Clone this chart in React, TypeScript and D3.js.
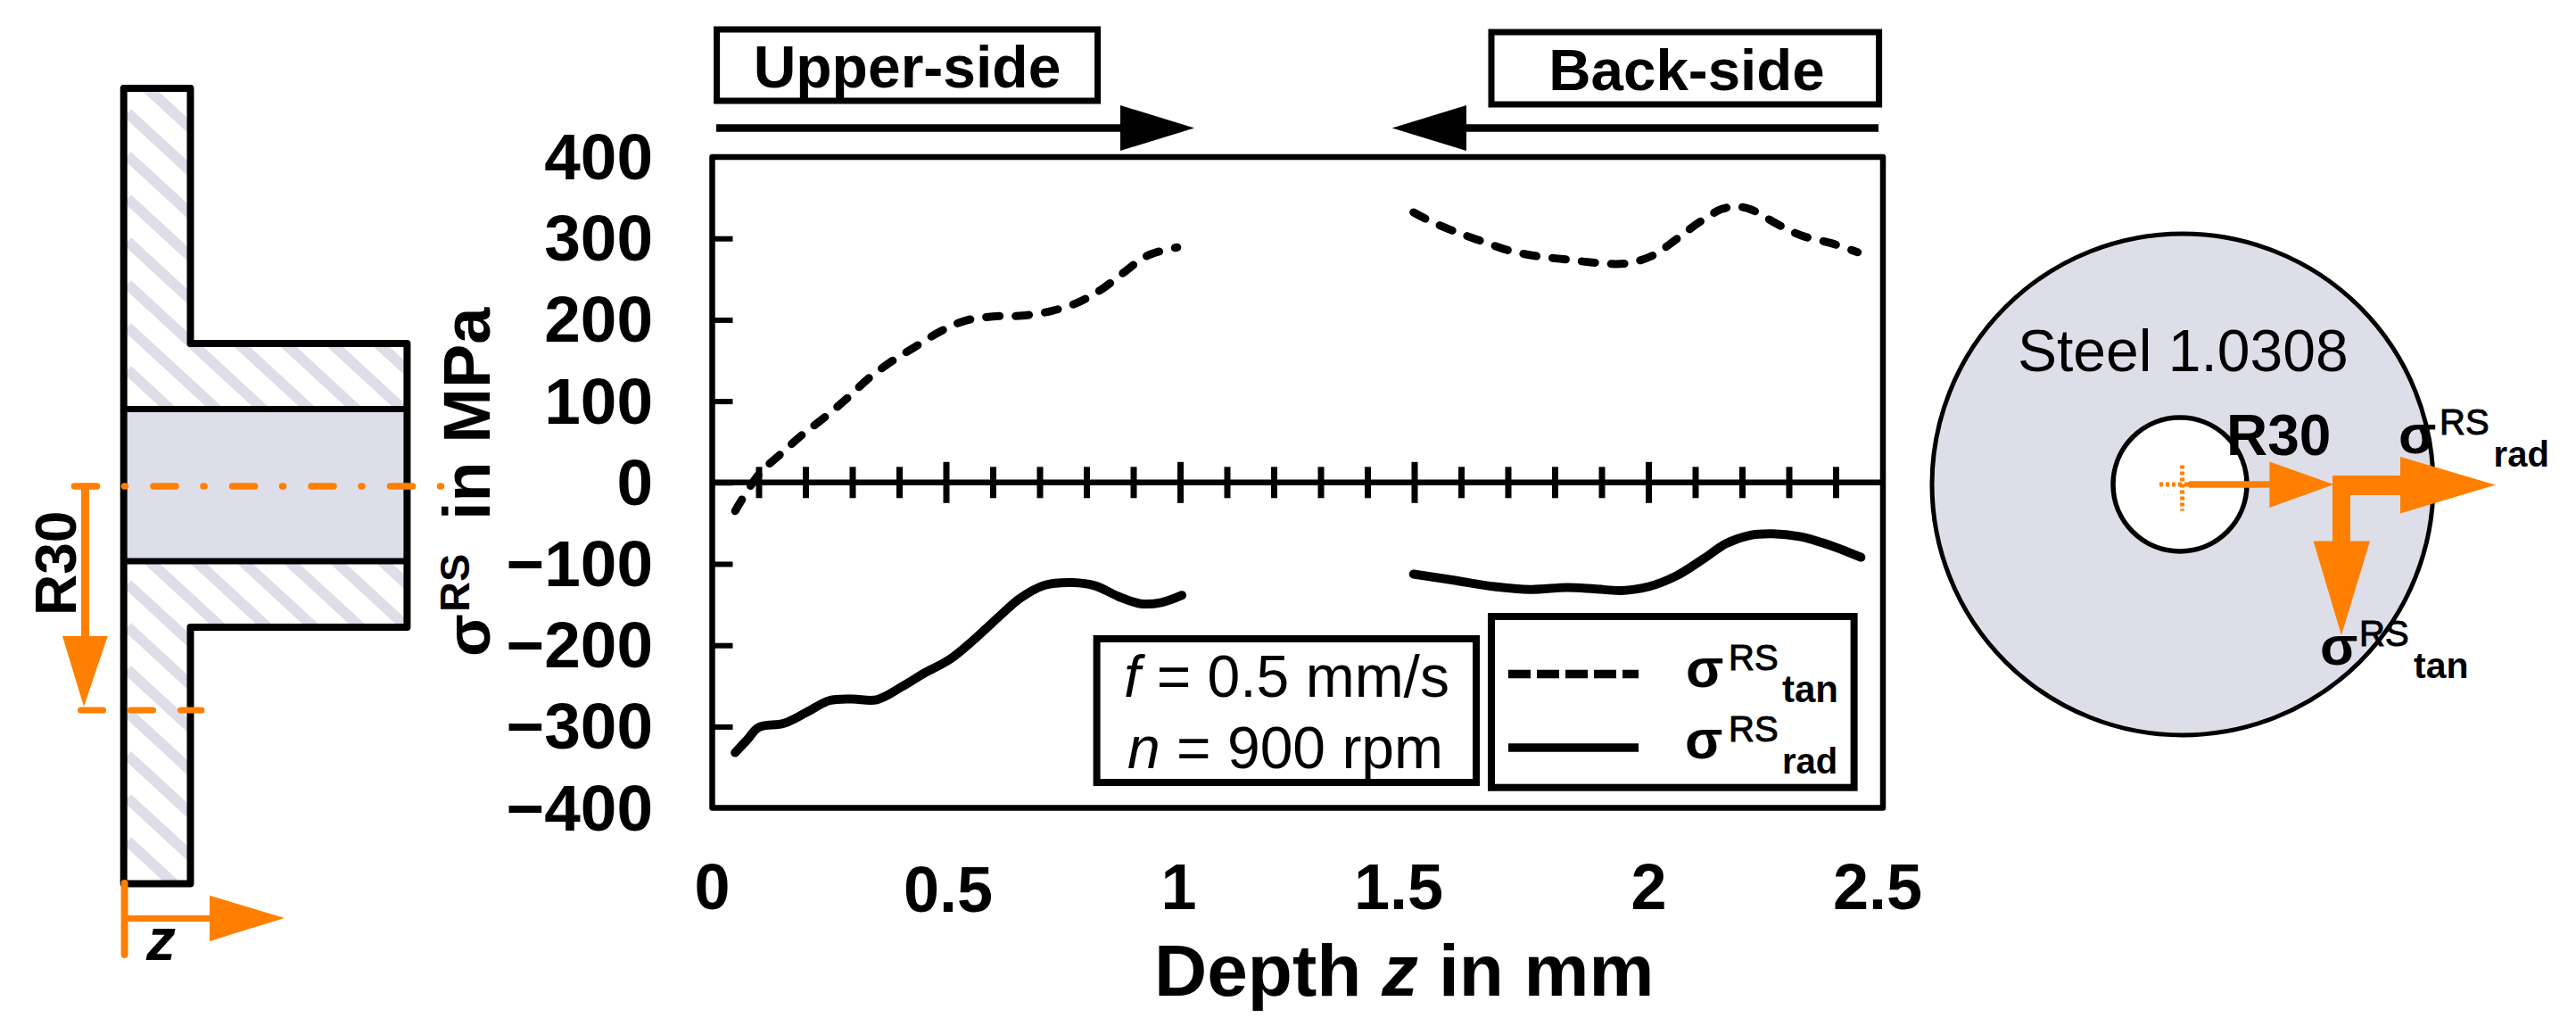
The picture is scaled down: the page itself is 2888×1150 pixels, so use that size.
import React, { useRef, useEffect } from 'react';
import * as d3 from 'd3';

const WIDTH = 2888;
const HEIGHT = 1150;
const ORANGE = '#ff7f00';
const STEEL = '#dedee9';
const FONT = '"Liberation Sans", Arial, sans-serif';

// Depth z in mm and residual stress in MPa
const tanUpperZ = [0.049, 0.099, 0.148, 0.191, 0.24, 0.289, 0.332, 0.381, 0.434, 0.488, 0.541, 0.599, 0.662, 0.726, 0.784, 0.833, 0.881, 0.93, 0.993];
const tanUpperS = [-35, 9.6, 36, 58, 80, 104, 127, 148, 167, 186, 199, 204, 205, 211, 222, 238, 259, 279, 289];
const tanBackZ = [1.4975, 1.534, 1.588, 1.646, 1.705, 1.763, 1.826, 1.888, 1.947, 2.005, 2.059, 2.108, 2.156, 2.19, 2.22, 2.273, 2.326, 2.39, 2.446];
const tanBackS = [332, 321, 308, 296, 284.5, 278, 274, 270, 269, 278, 299, 320, 336, 339, 335, 318, 303.5, 294, 283];
const radUpperZ = [0.049, 0.075, 0.099, 0.153, 0.201, 0.25, 0.298, 0.351, 0.405, 0.454, 0.507, 0.561, 0.614, 0.658, 0.711, 0.77, 0.818, 0.867, 0.915, 0.959, 1.003];
const radUpperS = [-332, -316, -301, -296, -282.6, -268, -266, -267, -251, -234, -217.5, -192, -164, -142, -126, -123, -127, -140, -149, -147.5, -138.6];
const radBackZ = [1.4975, 1.583, 1.67, 1.748, 1.826, 1.884, 1.942, 2.0, 2.059, 2.117, 2.166, 2.215, 2.264, 2.322, 2.39, 2.453];
const radBackS = [-112.6, -120, -128, -131.5, -129, -130.7, -132.8, -128, -114.7, -93.7, -74.8, -65, -63, -66.5, -77.7, -92];

const yTicks = [400, 300, 200, 100, 0, -100, -200, -300, -400];
const xLabels = [0, 0.5, 1, 1.5, 2, 2.5];
const xMinor = d3.range(1, 25).map((d) => d / 10).filter((d) => Math.round(d * 10) % 5 !== 0);
const xMajor = [0.5, 1, 1.5, 2];

const App: React.FC = () => {
  const svgRef = useRef<SVGSVGElement>(null);

  useEffect(() => {
    if (!svgRef.current) return;
    const svg = d3.select(svgRef.current);
    svg.selectAll('*').remove();

    const x = d3.scaleLinear().domain([0, 2.5]).range([798.5, 2111]);
    const y = d3.scaleLinear().domain([-400, 400]).range([905.6, 176]);

    const addText = (
      str: string,
      px: number,
      py: number,
      size: number,
      opts: { bold?: boolean; italic?: boolean; anchor?: string; rotate?: boolean; heavy?: boolean } = {}
    ) => {
      const t = svg
        .append('text')
        .attr('x', px)
        .attr('y', py)
        .attr('font-family', FONT)
        .attr('font-size', size)
        .attr('font-weight', opts.bold ? 'bold' : 'normal')
        .attr('font-style', opts.italic ? 'italic' : 'normal')
        .attr('text-anchor', opts.anchor || 'start')
        .attr('fill', '#000')
        .text(str);
      if (opts.heavy) t.attr('stroke', '#000').attr('stroke-width', 1);
      if (opts.rotate) t.attr('transform', `rotate(-90 ${px} ${py})`);
      return t;
    };

    const addLine = (x1: number, y1: number, x2: number, y2: number, color: string, w: number) =>
      svg
        .append('line')
        .attr('x1', x1)
        .attr('y1', y1)
        .attr('x2', x2)
        .attr('y2', y2)
        .attr('stroke', color)
        .attr('stroke-width', w);

    const addTriangle = (pts: [number, number][], color: string) =>
      svg.append('polygon').attr('points', pts.join(' ')).attr('fill', color);

    const addBox = (x1: number, y1: number, x2: number, y2: number, w: number) =>
      svg
        .append('rect')
        .attr('x', x1)
        .attr('y', y1)
        .attr('width', x2 - x1)
        .attr('height', y2 - y1)
        .attr('fill', 'none')
        .attr('stroke', '#000')
        .attr('stroke-width', w);

    // Flange section on the left
    const flange: [number, number][] = [
      [138.7, 99], [213.5, 99], [213.5, 385], [456.4, 385], [456.4, 703],
      [213.5, 703], [213.5, 990.5], [138.7, 990.5],
    ];
    const outline = d3.line()(flange) + 'Z';
    svg
      .append('defs')
      .append('clipPath')
      .attr('id', 'flange-clip')
      .append('path')
      .attr('d', outline);
    const hatch = svg.append('g').attr('clip-path', 'url(#flange-clip)');
    hatch
      .selectAll('line')
      .data(d3.range(-8, 20))
      .enter()
      .append('line')
      .attr('x1', 143)
      .attr('x2', 500)
      .attr('y1', (k) => 126.7 + 48 * k)
      .attr('y2', (k) => 126.7 + 48 * k + 0.92 * 357)
      .attr('stroke', STEEL)
      .attr('stroke-width', 12);
    svg.append('rect').attr('x', 138.7).attr('y', 458.5).attr('width', 317.7).attr('height', 170.5).attr('fill', STEEL);
    addLine(138.7, 458.5, 456.4, 458.5, '#000', 7);
    addLine(138.7, 629, 456.4, 629, '#000', 7);
    svg
      .append('path')
      .attr('d', outline)
      .attr('fill', 'none')
      .attr('stroke', '#000')
      .attr('stroke-width', 8)
      .attr('stroke-linejoin', 'round');

    // Orange marks on the section
    addLine(83.5, 545, 495, 545, ORANGE, 7.5)
      .attr('stroke-dasharray', '25 31 1 31.5')
      .attr('stroke-linecap', 'round');
    addLine(90.5, 796, 226, 796, ORANGE, 7)
      .attr('stroke-dasharray', '25 31')
      .attr('stroke-linecap', 'round');
    addLine(95.5, 546, 95.5, 716, ORANGE, 9);
    addTriangle([[70, 713], [120.8, 713], [94, 792]], ORANGE);
    addText('R30', 85, 690, 64, { rotate: true, bold: true });
    addLine(139.6, 990, 139.6, 1070, ORANGE, 8).attr('stroke-linecap', 'round');
    addLine(140, 1029.4, 238, 1029.4, ORANGE, 7);
    addTriangle([[235, 1003.7], [235, 1055], [319, 1029]], ORANGE);
    addText('z', 164, 1076, 66, { bold: true, italic: true });

    // Side labels above the plot
    addBox(803.6, 33, 1230.6, 113, 7);
    addText('Upper-side', 1017, 97.6, 66, { bold: true, anchor: 'middle' });
    addLine(803, 143.5, 1258, 143.5, '#000', 8.5);
    addTriangle([[1256, 118], [1256, 169], [1339, 143.5]], '#000');
    addBox(1672, 36, 2106.6, 117, 7);
    addText('Back-side', 1891, 101.4, 65.5, { bold: true, anchor: 'middle' });
    addLine(1642, 143.5, 2106, 143.5, '#000', 8.5);
    addTriangle([[1644, 118], [1644, 169], [1560.7, 143.5]], '#000');

    // Plot frame
    addBox(x(0), y(400), x(2.5), y(-400), 6.5).attr('stroke-linejoin', 'round');

    // Y axis, ticks point inwards
    const yAxis = d3
      .axisLeft(y)
      .tickValues(yTicks.filter((d) => Math.abs(d) !== 400))
      .tickSizeInner(-23)
      .tickSizeOuter(0)
      .tickFormat(() => '');
    const yG = svg.append('g').attr('transform', `translate(${x(0)},0)`).call(yAxis);
    yG.select('.domain').remove();
    yG.selectAll('.tick line').attr('stroke', '#000').attr('stroke-width', 6);

    svg
      .selectAll('.y-label')
      .data(yTicks)
      .enter()
      .append('text')
      .attr('class', 'y-label')
      .attr('x', 732)
      .attr('y', (d) => y(d) + 25)
      .attr('text-anchor', 'end')
      .attr('font-family', FONT)
      .attr('font-weight', 'bold')
      .attr('font-size', 73)
      .text((d) => (d < 0 ? `\u2212${-d}` : `${d}`));

    // Zero line with depth ticks on both sides
    addLine(x(0), y(0), x(2.5), y(0), '#000', 6.5);
    svg
      .selectAll('.x-minor')
      .data(xMinor)
      .enter()
      .append('line')
      .attr('class', 'x-minor')
      .attr('x1', (d) => x(d))
      .attr('x2', (d) => x(d))
      .attr('y1', y(0) - 17.5)
      .attr('y2', y(0) + 17.5)
      .attr('stroke', '#000')
      .attr('stroke-width', 7);
    svg
      .selectAll('.x-major')
      .data(xMajor)
      .enter()
      .append('line')
      .attr('class', 'x-major')
      .attr('x1', (d) => x(d))
      .attr('x2', (d) => x(d))
      .attr('y1', y(0) - 23)
      .attr('y2', y(0) + 23)
      .attr('stroke', '#000')
      .attr('stroke-width', 7);

    // The 1.5 label sits left of its tick in the original
    const xNudge: Record<string, number> = { '0.5': 2, '1': -2, '1.5': -18, '2': 0, '2.5': -6, '0': 0 };
    svg
      .selectAll('.x-label')
      .data(xLabels)
      .enter()
      .append('text')
      .attr('class', 'x-label')
      .attr('x', (d) => x(d) + xNudge[String(d)])
      .attr('y', (d) => (d === 0.5 ? 1022 : 1018.6))
      .attr('text-anchor', 'middle')
      .attr('font-family', FONT)
      .attr('font-weight', 'bold')
      .attr('font-size', 72)
      .text((d) => `${d}`);

    addText('Depth z in mm', 1294, 1116, 82, { bold: true }).each(function () {
      const t = d3.select(this);
      t.text(null);
      t.append('tspan').text('Depth ');
      t.append('tspan').attr('font-style', 'italic').text('z');
      t.append('tspan').text(' in mm');
    });

    // Y title
    addText('\u03c3', 548.7, 736, 70, { rotate: true, bold: true });
    addText('RS', 525.7, 686, 47, { rotate: true, bold: true });
    addText('in MPa', 548.7, 583, 74, { rotate: true, bold: true });

    // Curves
    const curve = d3
      .line<[number, number]>()
      .x((d) => x(d[0]))
      .y((d) => y(d[1]))
      .curve(d3.curveCatmullRom.alpha(0.5));
    const drawCurve = (zs: number[], vs: number[], dashed: boolean) => {
      const p = svg
        .append('path')
        .attr('d', curve(zs.map((z, i) => [z, vs[i]] as [number, number])))
        .attr('fill', 'none')
        .attr('stroke', '#000')
        .attr('stroke-linecap', 'round')
        .attr('stroke-linejoin', 'round');
      if (dashed) p.attr('stroke-width', 9).attr('stroke-dasharray', '15 18');
      else p.attr('stroke-width', 10);
    };
    drawCurve(tanUpperZ, tanUpperS, true);
    drawCurve(tanBackZ, tanBackS, true);
    drawCurve(radUpperZ, radUpperS, false);
    drawCurve(radBackZ, radBackS, false);

    // Process parameter box
    addBox(1229.6, 716, 1655, 877, 8).attr('fill', '#fff');
    addText('', 1260, 781, 66).each(function () {
      const t = d3.select(this);
      t.append('tspan').attr('font-style', 'italic').text('f');
      t.append('tspan').text(' = 0.5 mm/s');
    });
    addText('', 1264, 861, 66).each(function () {
      const t = d3.select(this);
      t.append('tspan').attr('font-style', 'italic').text('n');
      t.append('tspan').text(' = 900 rpm');
    });

    // Legend
    addBox(1672, 691, 2078.6, 882.7, 8).attr('fill', '#fff');
    addLine(1691, 755.6, 1837, 755.6, '#000', 9.5).attr('stroke-dasharray', '25 7');
    addLine(1691, 838, 1837, 838, '#000', 9.5);
    addText('\u03c3', 1890, 770, 62, { bold: true });
    addText('RS', 1938, 750.7, 40, { heavy: true });
    addText('tan', 1998, 787, 42, { bold: true });
    addText('\u03c3', 1889, 850, 62, { bold: true });
    addText('RS', 1938, 831, 40, { heavy: true });
    addText('rad', 1998, 867, 40, { bold: true });

    // Disc on the right
    svg.append('circle').attr('cx', 2447).attr('cy', 543).attr('r', 281).attr('fill', STEEL).attr('stroke', '#000').attr('stroke-width', 5);
    svg.append('circle').attr('cx', 2444).attr('cy', 543).attr('r', 75).attr('fill', '#fff').attr('stroke', '#000').attr('stroke-width', 5.5);
    addText('Steel 1.0308', 2262, 416, 66);
    addLine(2421, 543, 2453, 543, ORANGE, 5).attr('stroke-dasharray', '4 3');
    addLine(2446.6, 521.6, 2446.6, 572.5, ORANGE, 5).attr('stroke-dasharray', '4 3');
    addText('R30', 2496, 510, 64, { bold: true });
    addLine(2456, 543, 2546, 543, ORANGE, 7.5).attr('stroke-linecap', 'round');
    addTriangle([[2544.4, 517.4], [2544.4, 569], [2616.5, 543]], ORANGE);
    svg.append('rect').attr('x', 2615).attr('y', 533).attr('width', 78).attr('height', 22).attr('fill', ORANGE);
    addTriangle([[2691, 512], [2691, 575.5], [2798, 543.5]], ORANGE);
    svg.append('rect').attr('x', 2615).attr('y', 533).attr('width', 20).attr('height', 75).attr('fill', ORANGE);
    addTriangle([[2593.6, 606.6], [2657, 606.6], [2625, 712]], ORANGE);

    addText('\u03c3', 2689, 508, 62, { bold: true });
    addText('RS', 2735, 487, 40, { heavy: true });
    addText('rad', 2795.6, 523, 40, { bold: true });
    addText('\u03c3', 2601, 745.4, 62, { bold: true });
    addText('RS', 2645, 723.5, 40, { heavy: true });
    addText('tan', 2706, 760, 41, { bold: true });
  }, []);

  return <svg ref={svgRef} width={WIDTH} height={HEIGHT} style={{ position: 'absolute', left: 0, top: 0, background: '#fff' }} />;
};

export default App;
